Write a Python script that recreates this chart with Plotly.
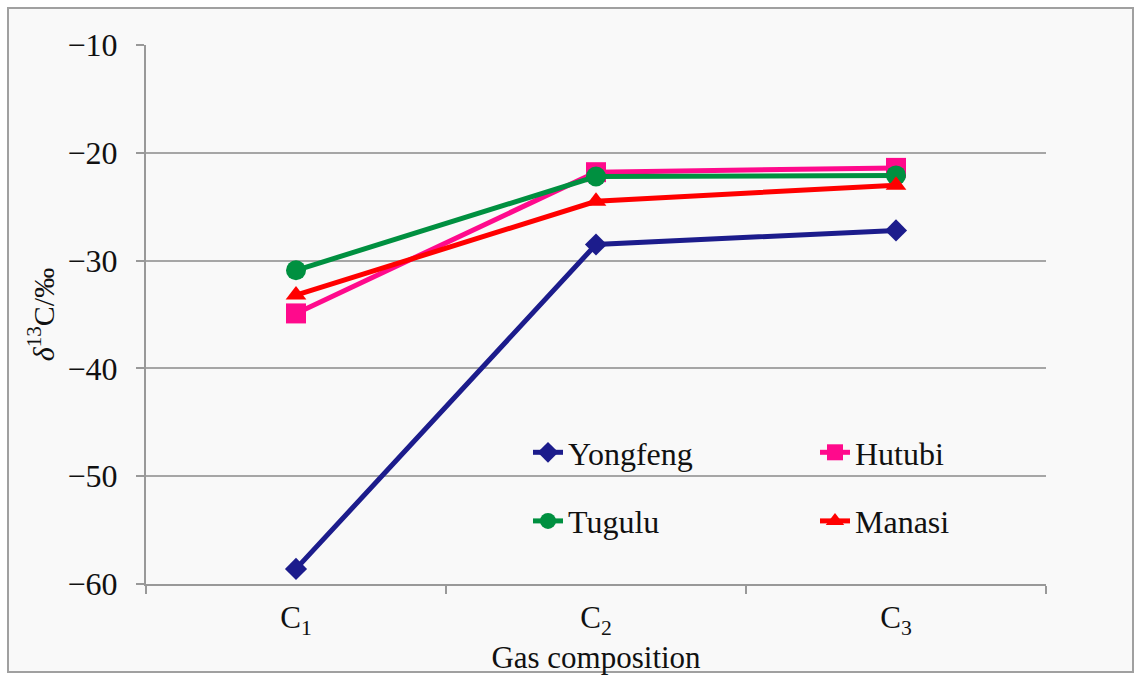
import plotly.graph_objects as go

categories = ["C<sub>1</sub>", "C<sub>2</sub>", "C<sub>3</sub>"]
yongfeng = [-58.6, -28.5, -27.2]
hutubi = [-34.9, -21.8, -21.4]
tugulu = [-30.9, -22.2, -22.1]
manasi = [-33.2, -24.5, -23.0]
y_ticks = [-60, -50, -40, -30, -20, -10]

W, H = 1136, 675
L, R, T, B = 146, 90, 45, 91
pw, ph = W - L - R, H - T - B

series = [
    ("Yongfeng", yongfeng, "#1c1c8c", "diamond", 17, "legend"),
    ("Hutubi", hutubi, "#ff0a8c", "square", 20, "legend2"),
    ("Tugulu", tugulu, "#009040", "circle", 20, "legend"),
    ("Manasi", manasi, "#ff0000", "triangle-up", 18, "legend2"),
]

fig = go.Figure()
for name, vals, color, sym, size, leg in series:
    fig.add_trace(go.Scatter(
        x=categories, y=vals, name=name, mode="lines+markers",
        line=dict(color=color, width=5),
        marker=dict(symbol=sym, size=size, color=color, line=dict(width=0)),
        legend=leg, legendgroup=name,
    ))

font = "Liberation Serif, Times New Roman, serif"
legend_common = dict(
    orientation="v", bgcolor="rgba(0,0,0,0)", borderwidth=0,
    font=dict(family=font, size=32, color="#111111"),
    tracegroupgap=24, itemsizing="trace", yanchor="top", xanchor="left",
)
leg_top = (H - B - 425) / ph

fig.update_layout(
    width=W, height=H,
    margin=dict(l=L, r=R, t=T, b=B, autoexpand=False),
    paper_bgcolor="white",
    plot_bgcolor="rgba(0,0,0,0)",
    font=dict(family=font, size=32, color="#111111"),
    legend=dict(x=(528 - L) / pw, y=leg_top, **legend_common),
    legend2=dict(x=(815 - L) / pw, y=leg_top, **legend_common),
    xaxis=dict(
        type="category", range=[-0.5, 2.5], automargin=False,
        tickson="boundaries", ticks="outside", ticklen=8, tickcolor="#999999", tickwidth=2,
        showline=True, linecolor="#999999", linewidth=2, showgrid=False, zeroline=False,
        tickfont=dict(size=31), ticklabelstandoff=5,
        title=dict(text="Gas composition", font=dict(size=31), standoff=4),
    ),
    yaxis=dict(
        range=[-60, -10], tickmode="array", tickvals=y_ticks, automargin=False,
        ticks="outside", ticklen=8, tickcolor="#999999", tickwidth=2,
        showline=True, linecolor="#999999", linewidth=2,
        showgrid=True, gridcolor="#a6a6a6", gridwidth=2, zeroline=False,
        tickfont=dict(size=32), ticklabelstandoff=12,
        title=dict(text="<i>δ</i><sup>13</sup>C/‰", font=dict(size=30), standoff=4),
    ),
)

# figure frame and background
fig.add_shape(type="rect", xref="paper", yref="paper", layer="below",
              x0=(8 - L) / pw, x1=(1133 - L) / pw, y0=(H - B - 672) / ph, y1=(H - B - 8) / ph,
              fillcolor="#f9f9f9", line=dict(color="#a0a0a0", width=2))

fig.write_html("out.html", config={"displayModeBar": False},
               post_script="document.body.style.margin='0';")
